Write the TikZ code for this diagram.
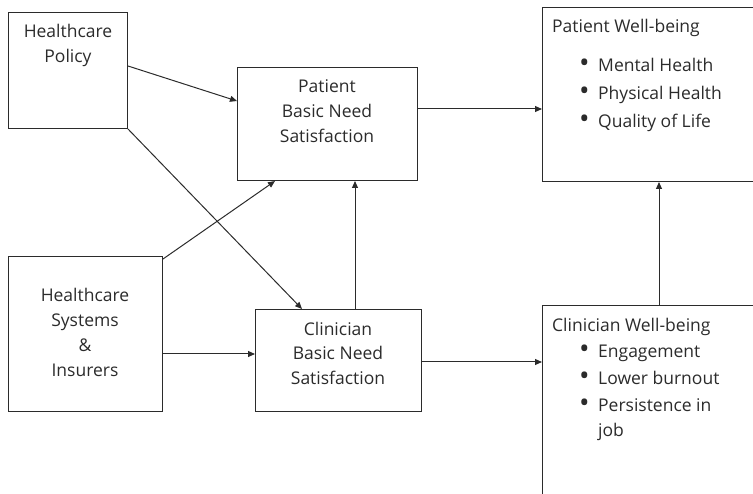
\documentclass[tikz,border=0pt]{standalone}
\usepackage{fontspec}
\usepackage{graphicx}
\setmainfont{Open Sans}
\usetikzlibrary{arrows.meta}
\definecolor{ink}{HTML}{2B2B2B}
\newcommand{\bul}{\makebox[17pt][l]{\hspace*{-2pt}\raisebox{-0.5pt}{\scalebox{1.6}{•}}}}
\newcommand{\nobul}{\hspace*{17pt}}
\begin{document}
\begin{tikzpicture}[x=1pt,y=-1pt,
  box/.style={draw=ink, line width=1pt, rectangle, inner sep=0pt, anchor=north west},
  lbl/.style={text=ink, font=\fontsize{17.5}{25}\selectfont, align=center, inner sep=0pt, anchor=base},
  lst/.style={text=ink, font=\fontsize{17.5}{28}\selectfont, align=left, inner sep=0pt, anchor=base west},
  flow/.style={draw=ink, line width=1pt, -{Triangle[length=7pt,width=6pt]}}]
\clip (0,0) rectangle (753,494);

% boxes
\node[box, minimum width=119pt, minimum height=116pt] (hp)  at (8,12)   {};
\node[box, minimum width=180pt, minimum height=113pt] (pbn) at (237,67) {};
\node[box, minimum width=154pt, minimum height=155pt] (hs)  at (8,256)  {};
\node[box, minimum width=166pt, minimum height=102pt] (cbn) at (255,309) {};
\node[box, minimum width=260pt, minimum height=174pt] (pwb) at (542,7)  {};
\node[box, minimum width=260pt, minimum height=220pt] (cwb) at (542,305) {};

% box texts (anchored at the baseline of the last line)
\node[lbl] (hpT)  at (68,63)   {Healthcare\\Policy};
\node[lbl] (pbnT) at (327,143) {Patient\\Basic Need\\Satisfaction};
\node[lbl] (hsT)  at (85,377)  {Healthcare\\Systems\\\&\\Insurers};
\node[lbl] (cbnT) at (338,385) {Clinician\\Basic Need\\Satisfaction};

\node[lst] (pwbT) at (552,33) {Patient Well-being};
\node[lst] (pwbL) at (581,128) {\bul Mental Health\\\bul Physical Health\\\bul Quality of Life};
\node[lst] (cwbT) at (552,332) {Clinician Well-being};
\node[lst, font=\fontsize{17.5}{27}\selectfont] (cwbL) at (581,437) {\bul Engagement\\\bul Lower burnout\\\bul Persistence in\\[-2pt]\nobul job};

% connectors
\draw[flow] ([yshift=-54pt]hp.north east) -- ([yshift=-34pt]pbn.north west);
\draw[flow] (hp.south east) -- ([xshift=47pt]cbn.north west);
\draw[flow] ([yshift=-3pt]hs.north east) -- ([xshift=38pt]pbn.south west);
\coordinate (hsOut) at ([yshift=-98pt]hs.north east);
\draw[flow] (hsOut) -- (hsOut -| cbn.west);
\coordinate (cbnUp) at ([xshift=100pt]cbn.north west);
\draw[flow] (cbnUp) -- (cbnUp |- pbn.south);
\coordinate (pbnOut) at ([yshift=-42pt]pbn.north east);
\draw[flow] (pbnOut) -- (pbnOut -| pwb.west);
\coordinate (cbnOut) at ([yshift=-53pt]cbn.north east);
\draw[flow] (cbnOut) -- (cbnOut -| cwb.west);
\coordinate (cwbUp) at ([xshift=117pt]cwb.north west);
\draw[flow] (cwbUp) -- (cwbUp |- pwb.south);
\end{tikzpicture}
\end{document}
